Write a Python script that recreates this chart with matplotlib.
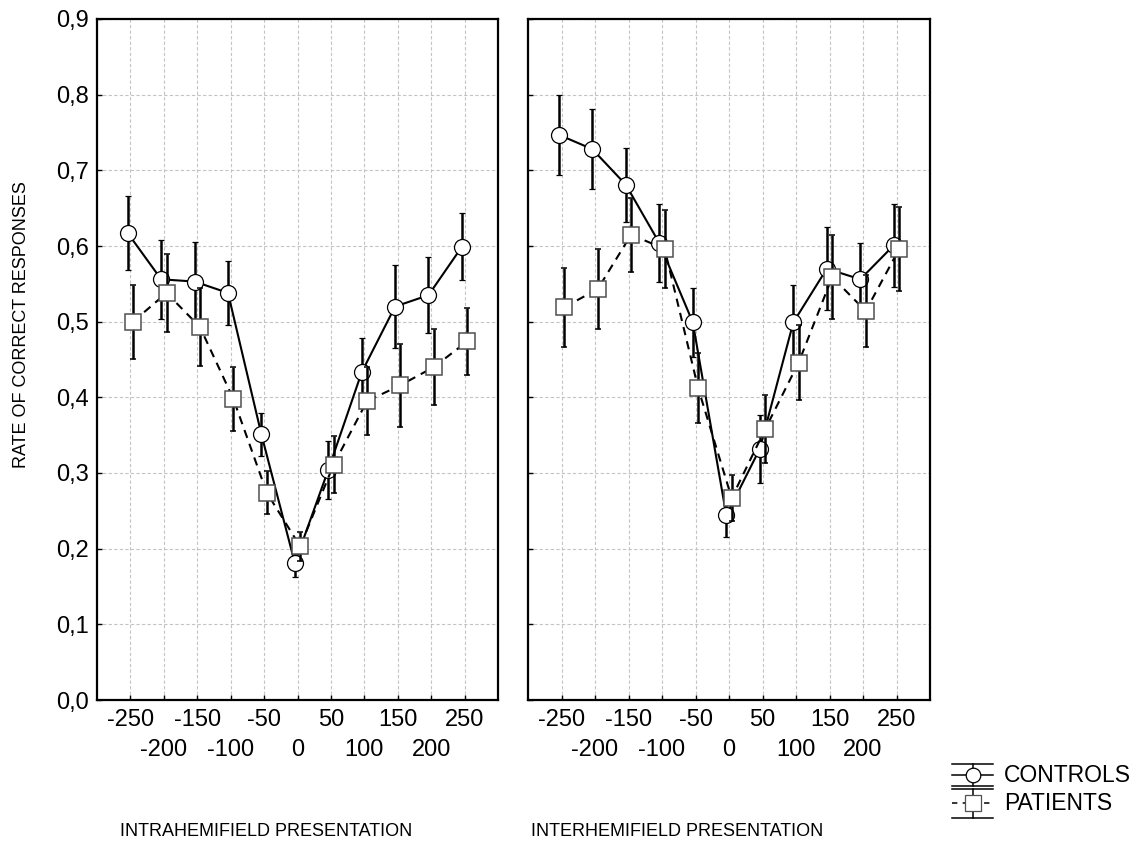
import matplotlib
matplotlib.use("Agg")
import matplotlib.pyplot as plt
from matplotlib.lines import Line2D
from matplotlib.ticker import FuncFormatter

# SOA conditions (ms)
soa = [-250, -200, -150, -100, -50, 0, 50, 100, 150, 200, 250]

# intrahemifield presentation
intra_controls = [0.617, 0.556, 0.553, 0.538, 0.351, 0.181, 0.304, 0.433, 0.520, 0.535, 0.599]
intra_controls_err = [0.049, 0.052, 0.052, 0.042, 0.028, 0.019, 0.038, 0.045, 0.055, 0.050, 0.044]
intra_patients = [0.500, 0.538, 0.493, 0.398, 0.274, 0.203, 0.311, 0.395, 0.416, 0.440, 0.474]
intra_patients_err = [0.049, 0.051, 0.051, 0.042, 0.028, 0.019, 0.038, 0.045, 0.055, 0.050, 0.044]

# interhemifield presentation
inter_controls = [0.747, 0.728, 0.681, 0.604, 0.499, 0.244, 0.332, 0.499, 0.570, 0.556, 0.601]
inter_controls_err = [0.053, 0.053, 0.049, 0.052, 0.046, 0.029, 0.045, 0.049, 0.055, 0.048, 0.055]
inter_patients = [0.519, 0.543, 0.615, 0.596, 0.412, 0.267, 0.358, 0.446, 0.559, 0.514, 0.596]
inter_patients_err = [0.052, 0.053, 0.049, 0.052, 0.046, 0.031, 0.045, 0.050, 0.055, 0.048, 0.055]

panel_titles = ["INTRAHEMIFIELD PRESENTATION", "INTERHEMIFIELD PRESENTATION"]
group_names = ["CONTROLS", "PATIENTS"]

plt.rcParams["font.family"] = ["Liberation Sans", "DejaVu Sans"]

W, H = 1142, 852
fig = plt.figure(figsize=(W / 100, H / 100), dpi=100)

# panel placement in pixels: left, right, top, bottom
panels = [(97, 498), (528, 930)]
top_px, bot_px = 19, 700

offset = 4  # horizontal shift so the two groups don't sit on top of each other


def comma(v, pos):
    return f"{v:.1f}".replace(".", ",")


data = [
    (intra_controls, intra_controls_err, intra_patients, intra_patients_err),
    (inter_controls, inter_controls_err, inter_patients, inter_patients_err),
]

for i, ((x0, x1), (c, ce, p, pe)) in enumerate(zip(panels, data)):
    ax = fig.add_axes([x0 / W, (H - bot_px) / H, (x1 - x0) / W, (bot_px - top_px) / H])

    ax.errorbar([s - offset for s in soa], c, yerr=ce, color="black", lw=1.5,
                ls="-", marker="o", ms=11.5, mfc="white", mec="black", mew=0.9,
                elinewidth=1.8, capsize=2.2, capthick=1.8, zorder=3)
    ax.errorbar([s + offset for s in soa], p, yerr=pe, color="black", lw=1.5,
                ls=(0, (4, 3)), marker="s", ms=12, mfc="white", mec="#505050", mew=1.1,
                elinewidth=1.8, capsize=2.2, capthick=1.8, zorder=4)

    ax.set_xlim(-300, 300)
    ax.set_ylim(0, 0.9)
    ax.set_xticks(soa[0::2])
    ax.set_xticks(soa[1::2], minor=True)
    ax.set_yticks([k / 10 for k in range(10)])
    ax.yaxis.set_major_formatter(FuncFormatter(comma))
    ax.set_xticklabels([str(s) for s in soa[0::2]])
    ax.set_xticklabels([str(s) for s in soa[1::2]], minor=True)

    ax.grid(True, which="both", color="#c4c4c4", ls=(0, (3, 2)), lw=0.8)
    ax.set_axisbelow(True)
    for sp in ax.spines.values():
        sp.set_linewidth(1.6)

    ax.tick_params(axis="both", which="both", direction="in", length=3.5, width=1.0,
                   labelsize=17)
    ax.tick_params(axis="x", which="major", pad=6.5)
    ax.tick_params(axis="x", which="minor", pad=28)
    ax.tick_params(axis="y", pad=6)
    if i == 1:
        ax.tick_params(axis="y", labelleft=False)

fig.text(22 / W, 1 - 325 / H, "RATE OF CORRECT RESPONSES", rotation=90,
         ha="center", va="center", fontsize=13)
fig.text(266 / W, 1 - 832 / H, panel_titles[0], ha="center", va="center", fontsize=13)
fig.text(677 / W, 1 - 832 / H, panel_titles[1], ha="center", va="center", fontsize=13)

# legend drawn on a pixel-scaled overlay
lg = fig.add_axes([0, 0, 1, 1], facecolor="none")
lg.set_xlim(0, W)
lg.set_ylim(H, 0)
lg.axis("off")

keys = [
    (775, 764, 786, "-", "o", 10.5, "black", group_names[0]),
    (803, 789, 818, (0, (3.5, 3.5)), "s", 11, "#505050", group_names[1]),
]
for yc, yt, yb, ls, mk, ms, mec, name in keys:
    for yy in (yt, yb):
        lg.add_line(Line2D([952, 993], [yy, yy], color="black", lw=1.1))
    lg.add_line(Line2D([972.5, 972.5], [yt, yb], color="black", lw=1.1))
    lg.add_line(Line2D([952, 993], [yc, yc], color="black", lw=1.1, ls=ls))
    lg.add_line(Line2D([972.5], [yc], marker=mk, ms=ms, mfc="white", mec=mec, mew=0.9))
    lg.text(1004, yc + 1, name, ha="left", va="center", fontsize=16.5)

fig.savefig("out.png", dpi=100)
